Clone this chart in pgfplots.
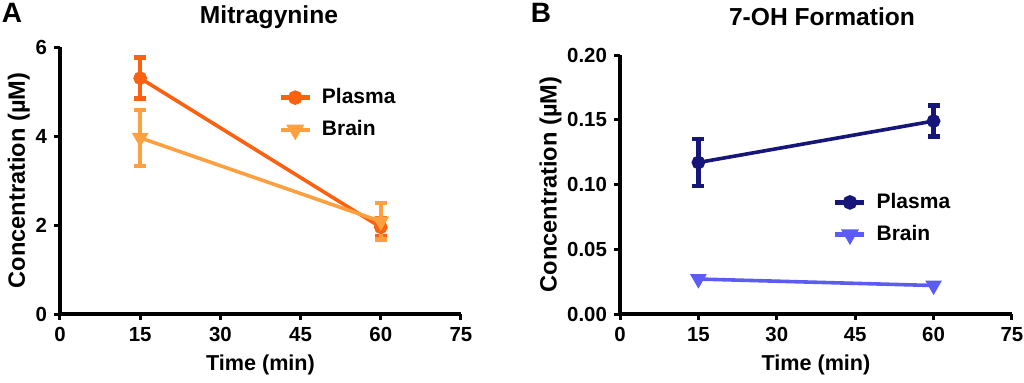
\documentclass[border=0pt]{standalone}
\usepackage{fontspec}
\setmainfont{Liberation Sans}
\usepackage{pgfplots}
\pgfplotsset{compat=1.18}
\definecolor{plA}{RGB}{250,98,18}
\definecolor{brA}{RGB}{255,160,64}
\definecolor{plB}{RGB}{22,22,122}
\definecolor{brB}{RGB}{92,92,240}
\pgfplotsset{gp/.style={
  scale only axis, axis x line=bottom, axis y line=left,
  axis line style={-, line width=2pt, black},
  tick align=outside, major tick length=3pt,
  every tick/.style={black, line width=1.5pt},
  xmin=0, xmax=75, xtick={0,15,...,75},
  /pgf/number format/assume math mode=true,
  tick label style={font=\fontsize{10.2}{11}\selectfont\bfseries},
  xlabel style={font=\fontsize{10.8}{11}\selectfont\bfseries},
  ylabel style={font=\fontsize{11.8}{12}\selectfont\bfseries},
  xlabel={Time (min)}, ylabel={Concentration (µM)},
  legend style={draw=none, fill=none, font=\fontsize{10.5}{11}\selectfont\bfseries, anchor=north west, inner sep=0pt, row sep=3pt, column sep=3pt},
  legend cell align=left,
  legend image code/.code={\draw[mark repeat=2,mark phase=2, line width=2.2pt] plot coordinates {(0pt,0pt) (7.25pt,0pt) (14.5pt,0pt)};},
  clip=false,
  every axis plot/.append style={line width=1.8pt},
}}
\pgfplotsset{eb/.style={error bars/.cd, y dir=both, y explicit,
  error bar style={line width=2.2pt, solid},
  error mark options={line width=2.2pt, mark size=3pt, rotate=90}}}
\begin{document}
\begin{tikzpicture}
\useasboundingbox (0,0) rectangle (512pt,191pt);
\node[font=\fontsize{14}{14}\selectfont\bfseries] at (6pt,184.5pt) {A};
\node[font=\fontsize{12.3}{12}\selectfont\bfseries] at (134.5pt,182.5pt) {Mitragynine};
\node[font=\fontsize{14}{14}\selectfont\bfseries] at (270.5pt,184.5pt) {B};
\node[font=\fontsize{12.3}{12}\selectfont\bfseries] at (411pt,182.5pt) {7-OH Formation};
\begin{axis}[gp, at={(30pt,34pt)}, anchor=south west, width=200.5pt, height=133.5pt,
  ymin=0, ymax=6, ytick={0,2,4,6}, ylabel shift=-4pt,
  legend style={at={(rel axis cs:0.544,0.861)}}]
\addplot+[plA, mark=*, mark size=2.5pt, mark options={solid, fill=plA}, eb]
  coordinates {(15,5.3) +- (0,0.46) (60,1.95) +- (0,0.2)};
\addlegendentry{Plasma}
\addplot+[brA, mark=triangle*, mark size=3pt, mark options={solid, fill=brA, rotate=180}, eb]
  coordinates {(15,3.96) +- (0,0.63) (60,2.08) +- (0,0.41)};
\addlegendentry{Brain}
\end{axis}
\begin{axis}[gp, at={(310pt,34pt)}, anchor=south west, width=196pt, height=129.5pt,
  ymin=0, ymax=0.2, ytick={0,0.05,0.1,0.15,0.2}, ylabel shift=-4pt,
  yticklabel style={/pgf/number format/.cd, fixed, fixed zerofill, precision=2},
  legend style={at={(rel axis cs:0.543,0.483)}}]
\addplot+[plB, mark=*, mark size=2.5pt, mark options={solid, fill=plB}, eb]
  coordinates {(15,0.117) +- (0,0.018) (60,0.149) +- (0,0.012)};
\addlegendentry{Plasma}
\addplot+[brB, mark=triangle*, mark size=3pt, mark options={solid, fill=brB, rotate=180}]
  coordinates {(15,0.027) (60,0.022)};
\addlegendentry{Brain}
\end{axis}
\end{tikzpicture}
\end{document}
